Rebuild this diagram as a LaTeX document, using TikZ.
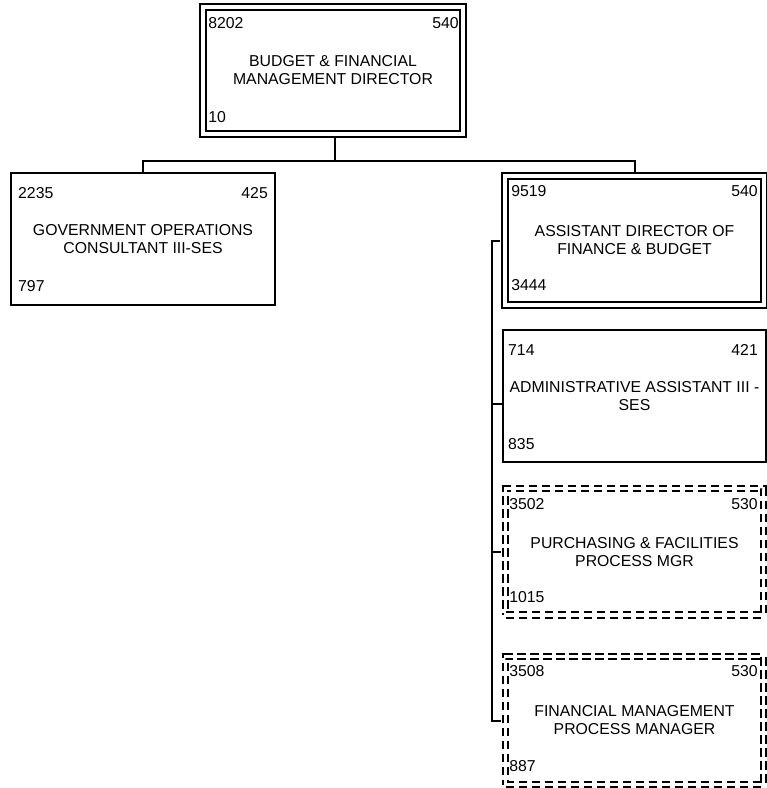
\documentclass[tikz,border=0pt]{standalone}
\usepackage{fontspec}
\setmainfont{Liberation Sans}
\usetikzlibrary{backgrounds}
\begin{document}
\begin{tikzpicture}[x=1pt,y=-1pt,
  box/.style={draw, line width=2pt, rectangle, inner sep=0pt, fill=white, align=center, font=\fontsize{15.8}{18}\selectfont},
  dbox/.style={box, line width=1.9pt, double, double distance=3.4pt},
  ddbox/.style={dbox, dash pattern=on 8.5pt off 4.5pt},
  num/.style={inner sep=0pt, font=\fontsize{15.8}{18}\selectfont},
  conn/.style={line width=2pt}]
\useasboundingbox (0,0) rectangle (767,788);

% boxes
\node[dbox, minimum width=260pt, minimum height=127pt] (top) at (333,70.5) {BUDGET \& FINANCIAL\\MANAGEMENT DIRECTOR};
\node[box, minimum width=264pt, minimum height=132pt] (gov) at (143,239) {GOVERNMENT OPERATIONS\\CONSULTANT III-SES};
\node[dbox, minimum width=259pt, minimum height=129pt] (asst) at (634.5,240.5) {ASSISTANT DIRECTOR OF\\FINANCE \& BUDGET};
\node[box, minimum width=263pt, minimum height=132pt] (adm) at (634.5,396) {ADMINISTRATIVE ASSISTANT III -\\SES};
\node[ddbox, minimum width=258pt, minimum height=126.5pt] (pur) at (634.5,551.75) {PURCHASING \& FACILITIES\\PROCESS MGR};
\node[ddbox, minimum width=258pt, minimum height=128pt] (fin) at (634.5,720.5) {FINANCIAL MANAGEMENT\\PROCESS MANAGER};

% numbers
\node[num, anchor=base west] (topa) at ([xshift=6pt,yshift=-22pt]top.north west) {8202};
\node[num, anchor=base east] (topb) at ([xshift=-5pt,yshift=-22pt]top.north east) {540};
\node[num, anchor=base west] (topc) at ([xshift=6pt,yshift=12pt]top.south west) {10};

\node[num, anchor=base west] (gova) at ([xshift=8pt,yshift=-26pt]gov.north west) {2235};
\node[num, anchor=base east] (govb) at ([xshift=-8pt,yshift=-26pt]gov.north east) {425};
\node[num, anchor=base west] (govc) at ([xshift=8pt,yshift=15pt]gov.south west) {797};

\node[num, anchor=base west] (assta) at ([xshift=7pt,yshift=-21pt]asst.north west) {9519};
\node[num, anchor=base east] (asstb) at ([xshift=-7pt,yshift=-21pt]asst.north east) {540};
\node[num, anchor=base west] (asstc) at ([xshift=7pt,yshift=15pt]asst.south west) {3444};

\node[num, anchor=base west] (adma) at ([xshift=6pt,yshift=-26pt]adm.north west) {714};
\node[num, anchor=base east] (admb) at ([xshift=-9pt,yshift=-26pt]adm.north east) {421};
\node[num, anchor=base west] (admc) at ([xshift=6pt,yshift=14pt]adm.south west) {835};

\node[num, anchor=base west] (pura) at ([xshift=4.5pt,yshift=-21.5pt]pur.north west) {3502};
\node[num, anchor=base east] (purb) at ([xshift=-6.5pt,yshift=-21.5pt]pur.north east) {530};
\node[num, anchor=base west] (purc) at ([xshift=4.5pt,yshift=13pt]pur.south west) {1015};

\node[num, anchor=base west] (fina) at ([xshift=4.5pt,yshift=-20.5pt]fin.north west) {3508};
\node[num, anchor=base east] (finb) at ([xshift=-6.5pt,yshift=-20.5pt]fin.north east) {530};
\node[num, anchor=base west] (finc) at ([xshift=4.5pt,yshift=13.5pt]fin.south west) {887};

% connectors
\coordinate (j) at (335,161);
\coordinate (spine) at (492,0);
\begin{scope}[on background layer]
\draw[conn] (top.south -| j) -- (j);
\draw[conn] (gov.north) |- (j) -| (asst.north);
\draw[conn] ([xshift=-4pt]asst.west) -- (asst.west -| spine) -- (fin.west -| spine) -- ([xshift=-4pt]fin.west);
\draw[conn] ([yshift=-8pt]adm.west) -- ([yshift=-8pt]adm.west -| spine);
\draw[conn] ([xshift=-4pt]pur.west) -- (pur.west -| spine);
\end{scope}
\end{tikzpicture}
\end{document}
